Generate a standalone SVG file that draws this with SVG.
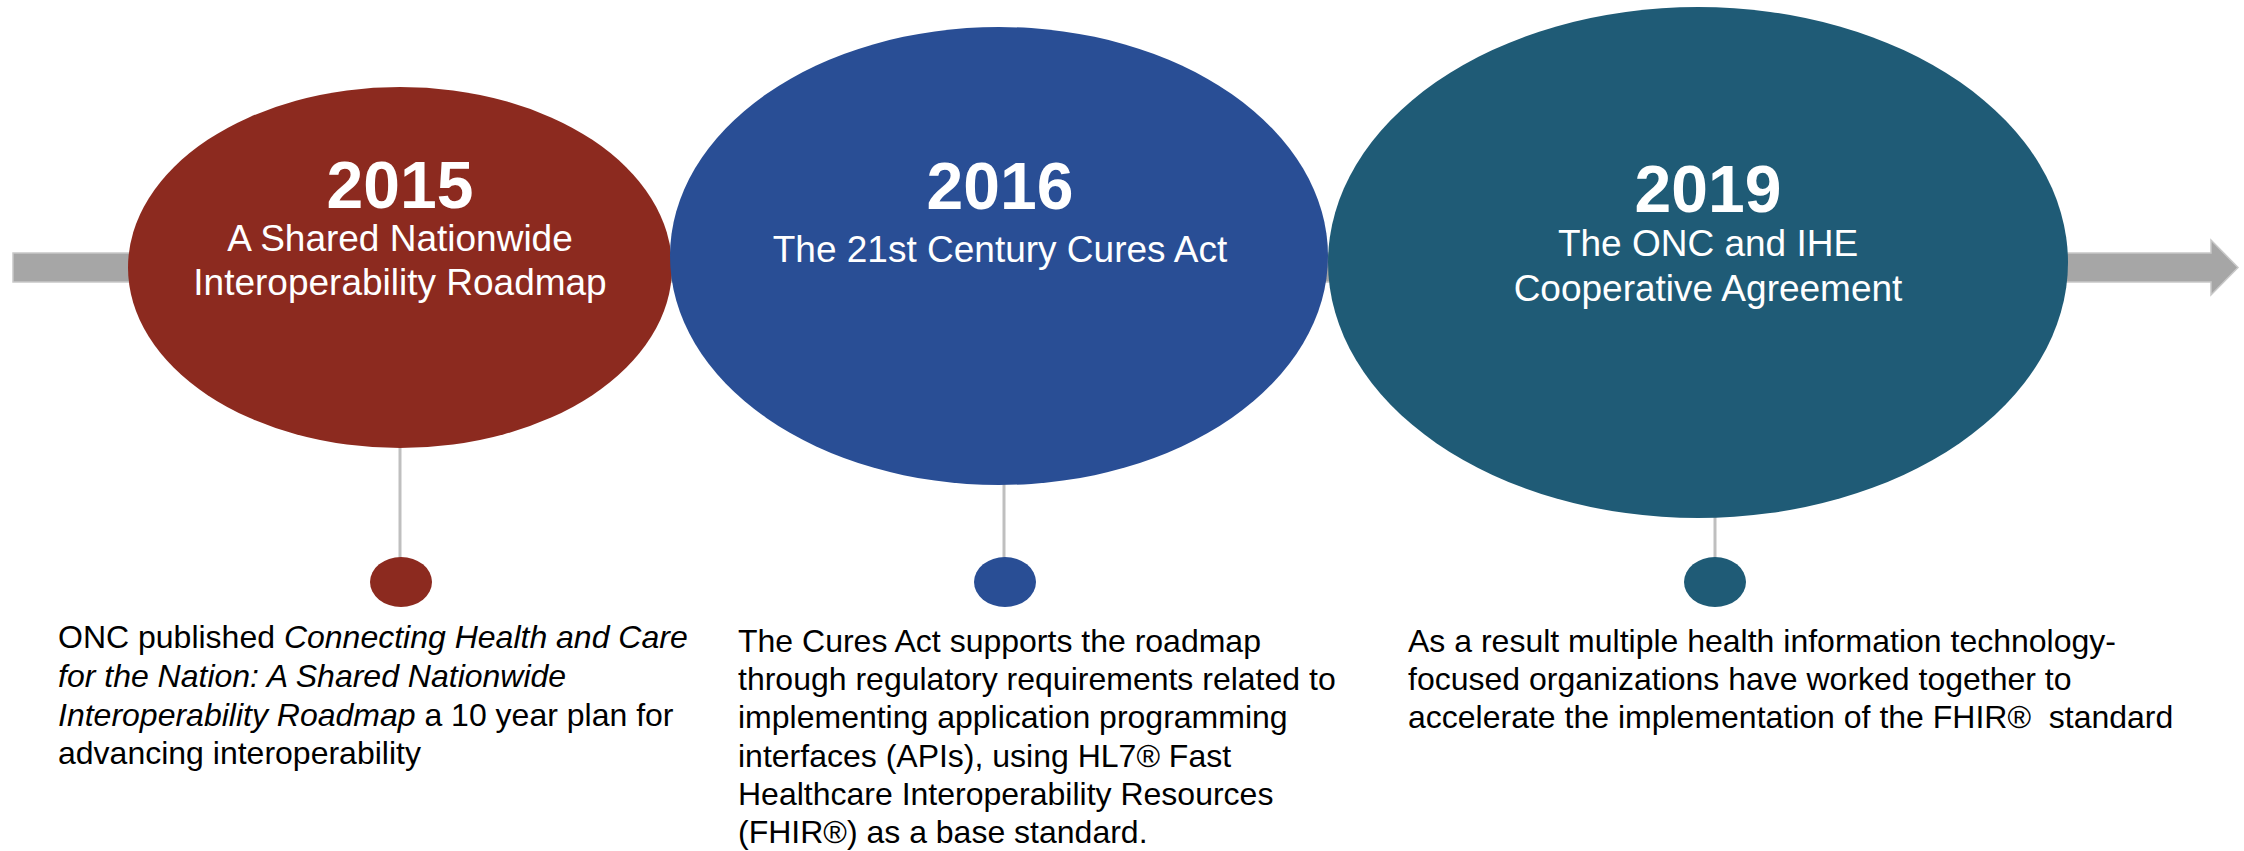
<svg xmlns="http://www.w3.org/2000/svg" width="2244" height="851" viewBox="0 0 2244 851">
<style>
.yr{font-family:"Liberation Sans",Arial,sans-serif;font-weight:bold;font-size:66px;fill:#fff;text-anchor:middle}
.sub{font-family:"Liberation Sans",Arial,sans-serif;font-size:37px;fill:#fff;text-anchor:middle}
.body{font-family:"Liberation Sans",Arial,sans-serif;font-size:32px;fill:#000}
.it{font-style:italic}
.stem{stroke:#bfbfbf;stroke-width:3;fill:none}
</style>
<rect width="2244" height="851" fill="#fff"/>
<g id="timeline">
<path d="M13,253 H2211 V240 L2238,267.5 L2211,295 V282 H13 Z" fill="#a6a6a6" stroke="#c8c8c8" stroke-width="1.5"/>
</g>
<g id="connectors">
<line class="stem" x1="400" y1="440" x2="400" y2="560"/>
<line class="stem" x1="1004" y1="480" x2="1004" y2="560"/>
<line class="stem" x1="1715" y1="510" x2="1715" y2="560"/>
</g>
<g id="node-2015">
<ellipse cx="400" cy="267.5" rx="272" ry="180.5" fill="#8c2a1f"/>
<text class="yr" x="400" y="208">2015</text>
<text class="sub" x="400" y="251">A Shared Nationwide</text>
<text class="sub" x="400" y="295">Interoperability Roadmap</text>
</g>
<g id="node-2016">
<ellipse cx="999" cy="256" rx="329" ry="229" fill="#294e95"/>
<text class="yr" x="1000" y="209">2016</text>
<text class="sub" x="1000" y="262">The 21st Century Cures Act</text>
</g>
<g id="node-2019">
<ellipse cx="1698" cy="262.5" rx="370" ry="255.5" fill="#1f5b76"/>
<text class="yr" x="1708" y="212">2019</text>
<text class="sub" x="1708" y="256">The ONC and IHE</text>
<text class="sub" x="1708" y="301">Cooperative Agreement</text>
</g>
<g id="dot-2015">
<ellipse cx="401" cy="582" rx="31" ry="25" fill="#8c2a1f"/>
<text class="body" x="58" y="648">ONC published <tspan class="it">Connecting Health and Care</tspan></text>
<text class="body it" x="58" y="687">for the Nation: A Shared Nationwide</text>
<text class="body" x="58" y="726"><tspan class="it">Interoperability Roadmap</tspan> a 10 year plan for</text>
<text class="body" x="58" y="764">advancing interoperability</text>
</g>
<g id="dot-2016">
<ellipse cx="1005" cy="582" rx="31" ry="25" fill="#294e95"/>
<text class="body" x="738" y="652">The Cures Act supports the roadmap</text>
<text class="body" x="738" y="690">through regulatory requirements related to</text>
<text class="body" x="738" y="728">implementing application programming</text>
<text class="body" x="738" y="767">interfaces (APIs), using HL7® Fast</text>
<text class="body" x="738" y="805">Healthcare Interoperability Resources</text>
<text class="body" x="738" y="843">(FHIR®) as a base standard.</text>
</g>
<g id="dot-2019">
<ellipse cx="1715" cy="582" rx="31" ry="25" fill="#1f5b76"/>
<text class="body" x="1408" y="652">As a result multiple health information technology-</text>
<text class="body" x="1408" y="690">focused organizations have worked together to</text>
<text class="body" x="1408" y="728" xml:space="preserve">accelerate the implementation of the FHIR®  standard</text>
</g>
</svg>
